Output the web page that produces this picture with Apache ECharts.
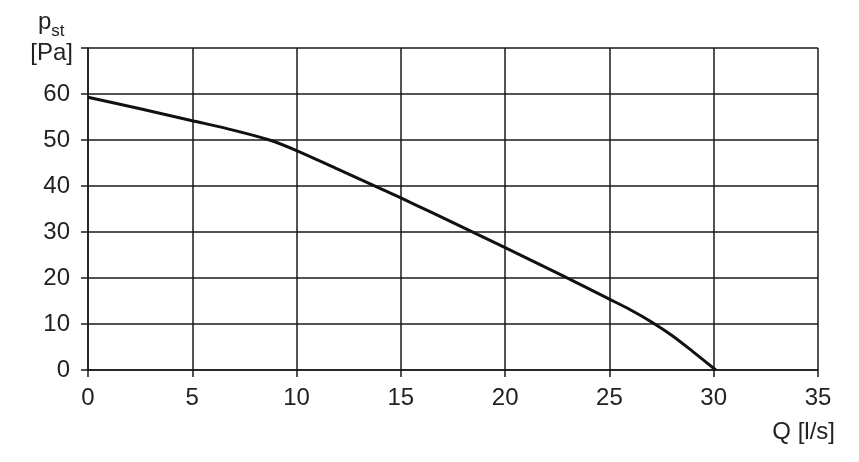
<!DOCTYPE html>
<html>
<head>
<meta charset="utf-8">
<script src="https://cdn.jsdelivr.net/npm/echarts@6/dist/echarts.min.js"></script>
<style>
html,body{margin:0;padding:0;background:#fff;}
#c{width:859px;height:462px;}
</style>
</head>
<body>
<div id="c"></div>
<script>
// Data
var flowQ = [0, 2.5, 5, 7, 8.7, 10, 12, 14, 15, 16.5, 18.3, 20, 22.85, 25, 26, 27, 28, 29, 30.1];
var pressure = [59.3, 56.8, 54.2, 52.1, 50, 47.7, 43.6, 39.5, 37.4, 34.2, 30.3, 26.6, 20.3, 15.4, 13.1, 10.5, 7.5, 4.0, 0];
var xTicks = [0, 5, 10, 15, 20, 25, 30, 35];
var yTicks = [0, 10, 20, 30, 40, 50, 60];

var pts = flowQ.map(function (q, i) { return [q, pressure[i]]; });
var font = '"Liberation Sans", Arial, sans-serif';
var lineCol = '#1a1a1a';
var txtCol = '#222';

var chart = echarts.init(document.getElementById('c'));
chart.setOption({
  animation: false,
  backgroundColor: '#fff',
  grid: {left: 88, right: 41, top: 48, bottom: 92},
  xAxis: {
    type: 'value', min: 0, max: 35, interval: 5,
    axisLine: {show: true, lineStyle: {color: lineCol, width: 1.5}},
    axisTick: {show: true, length: 7, lineStyle: {color: lineCol, width: 1.5}},
    splitLine: {show: true, lineStyle: {color: lineCol, width: 1.5}},
    axisLabel: {
      fontSize: 24, color: txtCol, fontFamily: font, margin: 16,
      formatter: function (v) { return xTicks.indexOf(v) >= 0 ? String(v) : ''; }
    }
  },
  yAxis: {
    type: 'value', min: 0, max: 70, interval: 10,
    axisLine: {show: true, lineStyle: {color: lineCol, width: 1.5}},
    axisTick: {show: true, length: 7, lineStyle: {color: lineCol, width: 1.5}},
    splitLine: {show: true, lineStyle: {color: lineCol, width: 1.5}},
    axisLabel: {
      fontSize: 24, color: txtCol, fontFamily: font, margin: 18,
      formatter: function (v) { return yTicks.indexOf(v) >= 0 ? String(v) : ''; }
    }
  },
  graphic: [
    {type: 'text', left: 38, top: 10, style: {
      text: '{p|p}{s|st}', fill: txtCol,
      rich: {
        p: {fontSize: 24, fontFamily: font, fill: txtCol, verticalAlign: 'bottom'},
        s: {fontSize: 17, fontFamily: font, fill: txtCol, verticalAlign: 'bottom', padding: [0, 0, -6, 0]}
      }
    }},
    {type: 'text', right: 859 - 73, top: 41, style: {
      text: '[Pa]', fontSize: 24, fontFamily: font, fill: txtCol
    }},
    {type: 'text', right: 859 - 835, top: 420, style: {
      text: 'Q [l/s]', fontSize: 24, fontFamily: font, fill: txtCol
    }}
  ],
  series: [{
    type: 'line', data: pts, smooth: 0.3, showSymbol: false,
    lineStyle: {color: '#111', width: 3}, z: 5
  }]
});
</script>
</body>
</html>
